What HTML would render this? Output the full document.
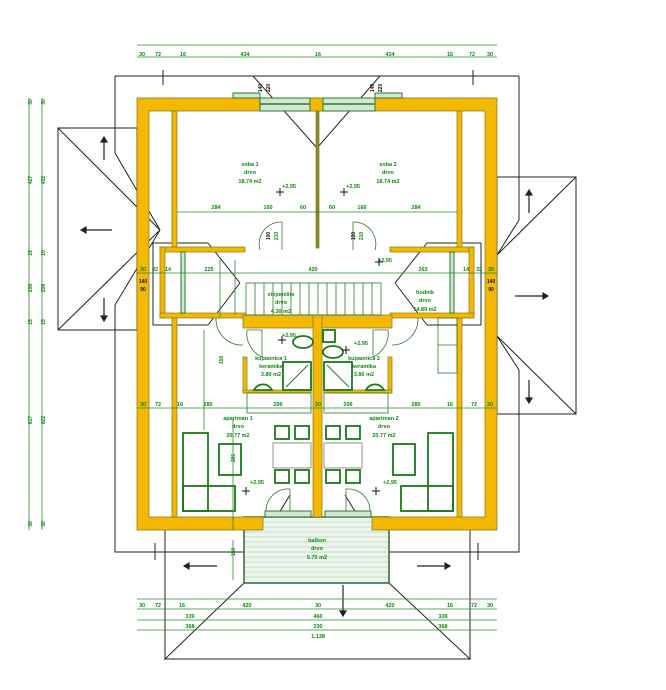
<!DOCTYPE html>
<html><head><meta charset="utf-8"><style>
html,body{margin:0;padding:0;background:#fff;width:666px;height:690px;overflow:hidden}
svg{display:block}
text{font-family:"Liberation Sans",sans-serif;font-weight:bold;fill:#0a8a0a}
.k{fill:#111}
</style></head><body>
<svg width="666" height="690" viewBox="0 0 666 690" xmlns="http://www.w3.org/2000/svg">
<g fill="none" stroke="#222" stroke-width="1">
<line x1="115" y1="76" x2="519" y2="76"/>
<polyline points="115,76 115,153 160,230"/>
<polyline points="160,230 115,305 115,552 137,552"/>
<polyline points="519,76 519,220 497,255"/>
<polyline points="497,336 519,370 519,552 497,552"/>
<line x1="137" y1="552" x2="497" y2="552"/>
<rect x="58" y="128" width="79" height="202"/>
<line x1="58" y1="128" x2="160" y2="230"/><line x1="58" y1="330" x2="160" y2="230"/>
<rect x="497" y="177" width="79" height="237"/>
<line x1="576" y1="177" x2="497" y2="255"/><line x1="576" y1="414" x2="497" y2="336"/>
<line x1="253" y1="76" x2="317" y2="148"/><line x1="380" y1="76" x2="317" y2="148"/>
<polyline points="244,583 165,659 470,659 389,583"/>
<line x1="165" y1="530" x2="165" y2="659"/><line x1="470" y1="530" x2="470" y2="659"/>
<line x1="255" y1="552" x2="290" y2="495"/><line x1="380" y1="552" x2="345" y2="495"/>
<line x1="153" y1="243" x2="153" y2="325"/><line x1="153" y1="243" x2="208" y2="243"/><line x1="153" y1="325" x2="208" y2="325"/>
<line x1="208" y1="243" x2="240" y2="283"/><line x1="208" y1="325" x2="240" y2="283"/>
<line x1="481" y1="243" x2="481" y2="325"/><line x1="481" y1="243" x2="427" y2="243"/><line x1="481" y1="325" x2="427" y2="325"/>
<line x1="427" y1="243" x2="395" y2="283"/><line x1="427" y1="325" x2="395" y2="283"/>
<line x1="163" y1="70" x2="163" y2="85"/><line x1="473" y1="70" x2="473" y2="85"/>
<line x1="155" y1="543" x2="155" y2="560"/><line x1="478" y1="543" x2="478" y2="560"/>
</g>
<g stroke="#222" stroke-width="1.2" fill="#222">
<line x1="104" y1="160" x2="104" y2="140"/><polygon points="101,142 107,142 104,137"/>
<line x1="112" y1="230" x2="84" y2="230"/><polygon points="86,227 86,233 81,230"/>
<line x1="104" y1="298" x2="104" y2="318"/><polygon points="101,316 107,316 104,321"/>
<line x1="529" y1="213" x2="529" y2="193"/><polygon points="526,195 532,195 529,190"/>
<line x1="515" y1="296" x2="545" y2="296"/><polygon points="543,293 543,299 548,296"/>
<line x1="529" y1="380" x2="529" y2="400"/><polygon points="526,398 532,398 529,403"/>
<line x1="217" y1="566" x2="187" y2="566"/><polygon points="189,563 189,569 184,566"/>
<line x1="417" y1="566" x2="447" y2="566"/><polygon points="445,563 445,569 450,566"/>
<line x1="343" y1="585" x2="343" y2="613"/><polygon points="340,611 346,611 343,616"/>
</g>
<rect x="244" y="517" width="145" height="66" fill="#eef5ee" stroke="#2d6a2d" stroke-width="1.5"/>
<g stroke="#9bc79b" stroke-width="0.6">
<line x1="245" y1="522" x2="388" y2="522"/><line x1="245" y1="527" x2="388" y2="527"/><line x1="245" y1="532" x2="388" y2="532"/><line x1="245" y1="537" x2="388" y2="537"/><line x1="245" y1="542" x2="388" y2="542"/><line x1="245" y1="547" x2="388" y2="547"/><line x1="245" y1="552" x2="388" y2="552"/><line x1="245" y1="557" x2="388" y2="557"/><line x1="245" y1="562" x2="388" y2="562"/><line x1="245" y1="567" x2="388" y2="567"/><line x1="245" y1="572" x2="388" y2="572"/><line x1="245" y1="577" x2="388" y2="577"/>
</g>
<g fill="#f5b800" stroke="#7a7a20" stroke-width="0.7">
<path d="M137,98 H497 V530 H372 V517 H485 V111 H149 V517 H263 V530 H137 Z" fill-rule="evenodd"/>
<rect x="172" y="111" width="5" height="137"/>
<rect x="457" y="111" width="5" height="137"/>
<rect x="172" y="318" width="5" height="199"/>
<rect x="457" y="318" width="5" height="199"/>
<rect x="316" y="111" width="3" height="137" fill="#8a8a20"/>
<rect x="160" y="247" width="85" height="5"/>
<rect x="390" y="247" width="84" height="5"/>
<rect x="160" y="247" width="5" height="71"/>
<rect x="469" y="247" width="5" height="71"/>
<rect x="160" y="313" width="85" height="5"/>
<rect x="390" y="313" width="84" height="5"/>
<rect x="243" y="315" width="149" height="13"/>
<rect x="313" y="315" width="9" height="202"/>
<rect x="243" y="357" width="4" height="36"/>
<rect x="388" y="357" width="4" height="36"/>
<rect x="243" y="390" width="68" height="3"/>
<rect x="324" y="390" width="68" height="3"/>
<rect x="310" y="98" width="13" height="13"/>
</g>
<g fill="#cfe8cf" stroke="#2d7a2d" stroke-width="1">
<rect x="233" y="93" width="27" height="5"/><rect x="375" y="93" width="27" height="5"/>
<rect x="260" y="98" width="50" height="13"/><rect x="323" y="98" width="52" height="13"/>
<rect x="181" y="252" width="4" height="61"/><rect x="450" y="252" width="4" height="61"/>
<rect x="265" y="511" width="46" height="6"/><rect x="325" y="511" width="46" height="6"/>
</g>
<g stroke="#2d7a2d" stroke-width="1.5"><line x1="260" y1="104" x2="310" y2="104"/><line x1="323" y1="104" x2="375" y2="104"/></g>
<g fill="none" stroke="#2d7a2d" stroke-width="0.8">
<rect x="246" y="283" width="135" height="32"/>
<line x1="255" y1="283" x2="255" y2="315"/><line x1="264" y1="283" x2="264" y2="315"/><line x1="273" y1="283" x2="273" y2="315"/><line x1="282" y1="283" x2="282" y2="315"/><line x1="291" y1="283" x2="291" y2="315"/><line x1="300" y1="283" x2="300" y2="315"/><line x1="309" y1="283" x2="309" y2="315"/><line x1="318" y1="283" x2="318" y2="315"/><line x1="327" y1="283" x2="327" y2="315"/><line x1="336" y1="283" x2="336" y2="315"/><line x1="345" y1="283" x2="345" y2="315"/><line x1="354" y1="283" x2="354" y2="315"/><line x1="363" y1="283" x2="363" y2="315"/><line x1="372" y1="283" x2="372" y2="315"/>
<path d="M260,250 A22,22 0 0 1 282,222 V250"/><path d="M375,250 A22,22 0 0 0 353,222 V250"/>
<path d="M216,318 A26,26 0 0 0 243,345"/><path d="M418,318 A26,26 0 0 1 392,345"/>
<path d="M247,330 H262 V357 A26,26 0 0 1 247,330"/><path d="M388,330 H373 V357 A26,26 0 0 0 388,330"/>
<path d="M266,511 A22,22 0 0 1 290,489 V511"/><path d="M370,511 A22,22 0 0 0 346,489 V511"/>
<rect x="247" y="393" width="64" height="20"/><rect x="324" y="393" width="64" height="20"/>
<rect x="438" y="318" width="19" height="55"/><line x1="438" y1="345" x2="457" y2="345"/>
</g>
<g fill="none" stroke="#1a7a1a" stroke-width="1.8">
<rect x="183" y="433" width="25" height="78"/><rect x="183" y="486" width="52" height="25"/>
<rect x="219" y="444" width="22" height="31"/>
<rect x="275" y="426" width="14" height="13"/><rect x="295" y="426" width="14" height="13"/>
<rect x="275" y="470" width="14" height="13"/><rect x="295" y="470" width="14" height="13"/>
<rect x="326" y="426" width="14" height="13"/><rect x="346" y="426" width="14" height="13"/>
<rect x="326" y="470" width="14" height="13"/><rect x="346" y="470" width="14" height="13"/>
<rect x="428" y="433" width="25" height="78"/><rect x="401" y="486" width="52" height="25"/>
<rect x="393" y="444" width="22" height="31"/>
<rect x="283" y="362" width="28" height="28"/><rect x="324" y="362" width="28" height="28"/>
<ellipse cx="303" cy="342" rx="10" ry="6"/><ellipse cx="333" cy="352" rx="10" ry="6"/>
<path d="M254,390 A10,10 0 0 1 272,390 Z"/><path d="M366,390 A10,10 0 0 1 384,390 Z"/>
<rect x="323" y="330" width="12" height="12"/>
</g>
<g stroke="#1a7a1a" stroke-width="1"><line x1="286" y1="387" x2="308" y2="365"/><line x1="327" y1="365" x2="349" y2="387"/></g>
<rect x="273" y="443" width="38" height="25" fill="none" stroke="#777" stroke-width="0.8"/>
<rect x="324" y="443" width="38" height="25" fill="none" stroke="#777" stroke-width="0.8"/>
<g stroke="#2d8a2d" stroke-width="0.8" fill="none">
<line x1="137" y1="45" x2="497" y2="45"/><line x1="137" y1="57" x2="497" y2="57"/>
<line x1="137" y1="599" x2="497" y2="599"/><line x1="137" y1="609" x2="497" y2="609"/><line x1="137" y1="620" x2="497" y2="620"/><line x1="137" y1="630" x2="497" y2="630"/>
<line x1="29" y1="98" x2="29" y2="530"/><line x1="42" y1="98" x2="42" y2="530"/>
<line x1="177" y1="212" x2="457" y2="212"/>
<line x1="137" y1="273" x2="497" y2="273"/>
<line x1="137" y1="408" x2="497" y2="408"/>
<line x1="220" y1="260" x2="220" y2="318"/><line x1="204" y1="330" x2="204" y2="430"/>
<line x1="235" y1="260" x2="235" y2="315"/><line x1="233" y1="420" x2="233" y2="530"/>
<line x1="233" y1="540" x2="233" y2="580"/>
</g>
<g font-size="5.5" text-anchor="middle">
<text x="142" y="56">30</text><text x="158" y="56">72</text><text x="183" y="56">16</text><text x="245" y="56">434</text><text x="318" y="56">16</text><text x="390" y="56">434</text><text x="450" y="56">16</text><text x="472" y="56">72</text><text x="490" y="56">30</text>
<text x="142" y="607">30</text><text x="158" y="607">72</text><text x="182" y="607">16</text><text x="247" y="607">420</text><text x="318" y="607">30</text><text x="390" y="607">420</text><text x="450" y="607">16</text><text x="474" y="607">72</text><text x="490" y="607">30</text>
<text x="190" y="618">339</text><text x="318" y="618">460</text><text x="443" y="618">339</text>
<text x="190" y="628">368</text><text x="318" y="628">330</text><text x="443" y="628">368</text>
<text x="318" y="638">1.138</text>
<text x="216" y="209">284</text><text x="268" y="209">160</text><text x="303" y="209">60</text><text x="332" y="209">60</text><text x="362" y="209">160</text><text x="416" y="209">284</text>
<text x="143" y="271">30</text><text x="155" y="271">32</text><text x="168" y="271">14</text><text x="209" y="271">225</text><text x="313" y="271">420</text><text x="423" y="271">263</text><text x="466" y="271">14</text><text x="479" y="271">32</text><text x="491" y="271">30</text>
<text x="143" y="406">30</text><text x="158" y="406">72</text><text x="180" y="406">16</text><text x="208" y="406">285</text><text x="278" y="406">206</text><text x="318" y="406">30</text><text x="348" y="406">206</text><text x="416" y="406">285</text><text x="450" y="406">16</text><text x="474" y="406">72</text><text x="490" y="406">30</text>
<text x="250" y="166">soba 1</text><text x="250" y="174">drvo</text><text x="250" y="183">18.74 m2</text>
<text x="388" y="166">soba 2</text><text x="388" y="174">drvo</text><text x="388" y="183">18.74 m2</text>
<text x="281" y="296">stepenište</text><text x="281" y="304">drvo</text><text x="281" y="313">4.30 m2</text>
<text x="425" y="294">hodnik</text><text x="425" y="302">drvo</text><text x="425" y="311">14.89 m2</text>
<text x="271" y="360">kupaonica 1</text><text x="271" y="368">keramika</text><text x="271" y="376">3.80 m2</text>
<text x="364" y="360">kupaonica 2</text><text x="364" y="368">keramika</text><text x="364" y="376">3.80 m2</text>
<text x="238" y="420">apartman 1</text><text x="238" y="428">drvo</text><text x="238" y="437">20.77 m2</text>
<text x="384" y="420">apartman 2</text><text x="384" y="428">drvo</text><text x="384" y="437">20.77 m2</text>
<text x="317" y="542">balkon</text><text x="317" y="550">drvo</text><text x="317" y="559">5.75 m2</text>
<text x="289" y="188">+2,95</text><text x="353" y="188">+2,95</text><text x="385" y="262">+2,95</text>
<text x="289" y="337">+2,95</text><text x="361" y="345">+2,95</text>
<text x="257" y="484">+2,95</text><text x="390" y="484">+2,95</text>
</g>
<g font-size="5" text-anchor="middle" class="k">
<text x="143" y="283" class="k">140</text><text x="143" y="291" class="k">90</text>
<text x="491" y="283" class="k">140</text><text x="491" y="291" class="k">90</text>
</g>
<g font-size="5" text-anchor="middle" transform="rotate(-90)">
<text x="-102" y="32">30</text><text x="-180" y="32">427</text><text x="-253" y="32">15</text><text x="-288" y="32">208</text><text x="-322" y="32">15</text><text x="-420" y="32">617</text><text x="-524" y="32">30</text>
<text x="-102" y="45">30</text><text x="-180" y="45">432</text><text x="-253" y="45">10</text><text x="-288" y="45">208</text><text x="-322" y="45">15</text><text x="-420" y="45">622</text><text x="-524" y="45">30</text>
<text x="-88" y="262" class="k">140</text><text x="-88" y="270" class="k">220</text>
<text x="-88" y="374" class="k">140</text><text x="-88" y="382" class="k">220</text>
<text x="-236" y="270" class="k">100</text><text x="-236" y="278">210</text>
<text x="-236" y="355" class="k">100</text><text x="-236" y="363">210</text>
<text x="-360" y="223">150</text><text x="-458" y="235">285</text>
<text x="-552" y="235">150</text>
</g>
<g stroke="#111" stroke-width="1">
<path d="M276,192 h8 M280,188 v8 M340,192 h8 M344,188 v8 M375,262 h8 M379,258 v8 M278,340 h8 M282,336 v8 M342,350 h8 M346,346 v8 M242,491 h8 M246,487 v8 M372,491 h8 M376,487 v8"/>
</g>
</svg>
</body></html>
